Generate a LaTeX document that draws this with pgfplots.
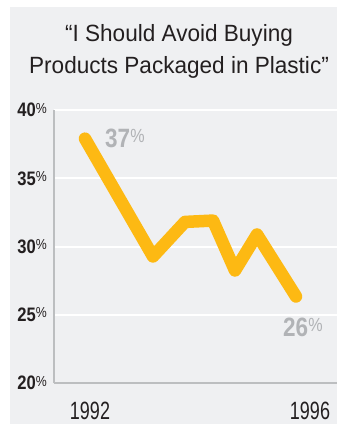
\documentclass[border=0pt]{standalone}
\usepackage{fontspec}
\setmainfont{Liberation Sans}
\newfontfamily\titlefont{Liberation Sans}[FakeStretch=0.96]
\newfontfamily\yearfont{Liberation Sans}[FakeStretch=0.72]
\newfontfamily\tickfont{Liberation Sans}[FakeStretch=0.85]
\usepackage{pgfplots}
\pgfplotsset{compat=1.18}
\definecolor{bg}{HTML}{EFF0F2}
\definecolor{amber}{HTML}{FDB913}
\definecolor{ink}{HTML}{231F20}
\definecolor{lbl}{HTML}{B1B3B6}
\definecolor{axgray}{HTML}{BCBEC0}
\newcommand\yl[1]{\tickfont{\bfseries\fontsize{19.5}{19.5}\selectfont #1}\raisebox{3.8pt}{\fontsize{14.5}{14.5}\selectfont\%}}
\newcommand\dl[1]{\tickfont{\bfseries\fontsize{26.5}{26.5}\selectfont #1}\raisebox{5.3pt}{\fontsize{19}{19}\selectfont\%}}
\begin{document}
\begin{tikzpicture}
\useasboundingbox (0pt,0pt) rectangle (337pt,424pt);
\fill[bg] (10pt,0pt) rectangle (337pt,417pt);
\node[font=\titlefont\fontsize{23.5}{28}\selectfont, text=ink, anchor=base, inner sep=0pt] at (179pt,382pt) {“I Should Avoid Buying};
\node[font=\titlefont\fontsize{23.5}{28}\selectfont, text=ink, anchor=base, inner sep=0pt] at (179pt,350pt) {Products Packaged in Plastic”};
\begin{axis}[at={(54pt,41pt)}, anchor=south west, scale only axis,
  width=283pt, height=273pt,
  xmin=54, xmax=337, ymin=20, ymax=40,
  axis x line=bottom, axis y line=left,
  x axis line style={-, draw=axgray, line width=2pt},
  y axis line style={-, draw=axgray, line width=1.5pt},
  ytick={20,25,30,35,40},
  yticklabels={\yl{20},\yl{25},\yl{30},\yl{35},\yl{40}},
  xtick={90,310}, xticklabels={1992,1996},
  major tick length=0pt,
  ymajorgrids, grid style={white, line width=2pt},
  yticklabel style={anchor=east, inner sep=0pt, text=ink},
  xticklabel style={anchor=north, inner sep=0pt, font=\yearfont\fontsize{25}{25}\selectfont, text=ink},
  yticklabel shift=7pt, xticklabel shift=19pt,
  clip=false]
\addplot[amber, line width=12.5pt, line cap=round, line join=round] coordinates {(85,37.9) (153,29.27) (185,31.8) (213,31.9) (235,28.24) (257,30.88) (296,26.34)};
\node[anchor=base west, inner sep=0pt, text=lbl] at (axis cs:105,37.22) {\dl{37}};
\node[anchor=base west, inner sep=0pt, text=lbl] at (axis cs:283,23.37) {\dl{26}};
\end{axis}
\end{tikzpicture}
\end{document}
